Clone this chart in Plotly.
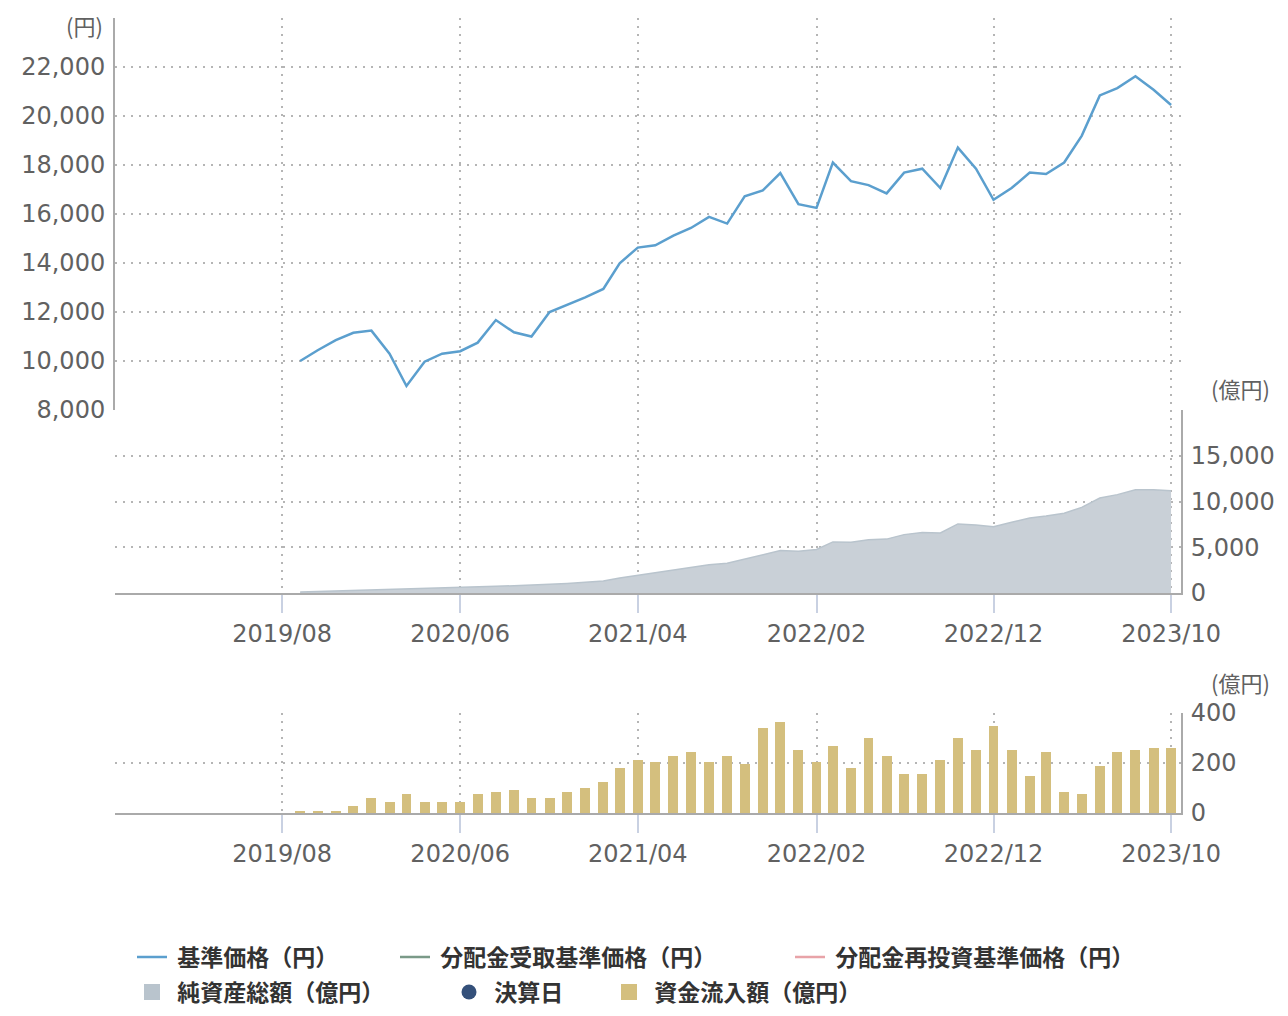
import plotly.graph_objects as go

months = [f"{y}-{m:02d}-01" for y in range(2019, 2024) for m in range(1, 13)]
months = [d for d in months if "2019-09-01" <= d <= "2023-10-01"]

price = [10000, 10440, 10850, 11150, 11240, 10300, 8980, 9970, 10300, 10400,
         10750, 11670, 11170, 11000, 12000, 12290, 12600, 12940, 13990, 14630,
         14720, 15120, 15430, 15880, 15610, 16720, 16960, 17670, 16400, 16250,
         18100, 17340, 17180, 16840, 17690, 17850, 17060, 18710, 17850, 16580,
         17060, 17690, 17630, 18100, 19190, 20840, 21140, 21620, 21070, 20450]

net_assets = [100, 150, 200, 260, 320, 360, 400, 450, 500, 560,
              640, 730, 800, 850, 950, 1050, 1150, 1300, 1650, 1950,
              2200, 2500, 2800, 3100, 3250, 3700, 4150, 4640, 4570, 4750,
              5580, 5550, 5810, 5890, 6380, 6600, 6570, 7550, 7430, 7250,
              7740, 8190, 8420, 8720, 9360, 10380, 10750, 11280, 11280, 11170]

inflow = [10, 10, 10, 27, 60, 43, 75, 43, 43, 43,
          75, 83, 91, 59, 59, 83, 99, 123, 179, 211,
          203, 227, 243, 203, 227, 195, 339, 363, 251, 203,
          267, 179, 299, 227, 155, 155, 211, 299, 251, 347,
          251, 147, 243, 83, 75, 187, 243, 251, 259, 259]

tick_dates = ["2019-08-01", "2020-06-01", "2021-04-01", "2022-02-01", "2022-12-01", "2023-10-01"]
tick_text = ["2019/08", "2020/06", "2021/04", "2022/02", "2022/12", "2023/10"]

price_ticks = [8000, 10000, 12000, 14000, 16000, 18000, 20000, 22000, 24000]
asset_ticks = [0, 5000, 10000, 15000, 20000]
inflow_ticks = [0, 200, 400]

FONT = "Noto Sans CJK JP"
TICKFONT = "DejaVu Sans"
GRID = "#b5b5b5"
DOT = "2px,6px"
AX = "#aaaaaa"
X_RANGE = ["2018-10-19", "2023-10-18"]

fig = go.Figure()

fig.add_trace(go.Scatter(x=months, y=net_assets, mode="lines",
                         line=dict(color="#b9c4cd", width=1.5), fill="tozeroy",
                         fillcolor="#c9d0d7", xaxis="x2", yaxis="y2", showlegend=False))
fig.add_trace(go.Bar(x=months, y=inflow, marker=dict(color="#d4bf7e", line=dict(width=0)),
                     width=17 * 86400000, xaxis="x3", yaxis="y3", showlegend=False))
fig.add_trace(go.Scatter(x=months, y=price, mode="lines", name=" 基準価格（円）",
                         line=dict(color="#5b9fce", width=2.5), xaxis="x", yaxis="y",
                         legend="legend"))

# legend-only entries
fig.add_trace(go.Scatter(x=[None], y=[None], mode="lines", name=" 分配金受取基準価格（円）",
                         line=dict(color="#7a9a88", width=2.5), legend="legend2"))
fig.add_trace(go.Scatter(x=[None], y=[None], mode="lines", name=" 分配金再投資基準価格（円）",
                         line=dict(color="#e8a3a8", width=2.5), legend="legend3"))
fig.add_trace(go.Scatter(x=[None], y=[None], mode="markers", name=" 純資産総額（億円）",
                         marker=dict(symbol="square", size=17, color="#b9c4cd"), legend="legend4"))
fig.add_trace(go.Scatter(x=[None], y=[None], mode="markers", name=" 決算日",
                         marker=dict(symbol="circle", size=15, color="#34507a"), legend="legend5"))
fig.add_trace(go.Scatter(x=[None], y=[None], mode="markers", name=" 資金流入額（億円）",
                         marker=dict(symbol="square", size=17, color="#d4bf7e"), legend="legend6"))

tickfont = dict(family=TICKFONT, size=24, color="#616161")

def xgrid(**kw):
    d = dict(type="date", range=X_RANGE, tickvals=tick_dates, ticktext=tick_text,
             showgrid=True, gridcolor=GRID, griddash=DOT, gridwidth=1.5,
             zeroline=False, tickfont=tickfont)
    d.update(kw)
    return d

def ygrid(**kw):
    d = dict(showgrid=True, gridcolor=GRID, griddash=DOT, gridwidth=1.5,
             zeroline=False, tickfont=tickfont, ticks="", fixedrange=True)
    d.update(kw)
    return d

H = 795.0
def py(px):
    return (813 - px) / H

legend_font = dict(family=FONT, size=23, color="#333333", weight="bold")

def leg(xpx, ypx):
    return dict(xref="container", yref="container", x=xpx / 1288, y=1 - ypx / 1016,
                xanchor="left", yanchor="middle", orientation="h",
                font=legend_font, bgcolor="rgba(0,0,0,0)", borderwidth=0,
                itemsizing="trace", tracegroupgap=0)

fig.update_layout(
    width=1288, height=1016,
    margin=dict(l=115, r=107, t=18, b=203, autoexpand=False),
    paper_bgcolor="white", plot_bgcolor="white",
    font=dict(family=FONT, color="#555555"),
    bargap=0,
    xaxis=xgrid(anchor="y", showticklabels=False, ticks="", showline=False),
    xaxis2=xgrid(anchor="y2", matches="x", ticks="outside", ticklen=18, tickwidth=2,
                 tickcolor="#c9d1e2", showline=True, linecolor=AX, linewidth=2),
    xaxis3=xgrid(anchor="y3", matches="x", ticks="outside", ticklen=18, tickwidth=2,
                 tickcolor="#c9d1e2", showline=True, linecolor=AX, linewidth=2),
    yaxis=ygrid(domain=[py(410), 1], range=[8000, 24000], tickvals=price_ticks,
                ticktext=[f"{v:,}" if v < 24000 else "" for v in price_ticks],
                side="left", showline=True, linecolor=AX, linewidth=2,
                ticklabelstandoff=3),
    yaxis2=ygrid(domain=[py(593), py(410)], range=[0, 20000], tickvals=asset_ticks,
                 ticktext=[f"{v:,}" if v < 20000 else "" for v in asset_ticks],
                 side="right", anchor="x2", showline=True, linecolor=AX, linewidth=2,
                 ticklabelstandoff=3),
    yaxis3=ygrid(domain=[0, py(713)], range=[0, 400], tickvals=inflow_ticks,
                 ticktext=[str(v) for v in inflow_ticks],
                 side="right", anchor="x3", showline=True, linecolor=AX, linewidth=2,
                 ticklabelstandoff=3),
    legend=leg(132, 957),
    legend2=leg(395, 957),
    legend3=leg(790, 957),
    legend4=leg(132, 992),
    legend5=leg(449, 992),
    legend6=leg(609, 992),
    annotations=[
        dict(text="(円)", xref="paper", yref="paper", x=(105 - 115) / 1066, y=py(25),
             xanchor="right", yanchor="middle", showarrow=False,
             font=dict(family=FONT, size=22, color="#616161")),
        dict(text="(億円)", xref="paper", yref="paper", x=(1272 - 115) / 1066, y=py(388),
             xanchor="right", yanchor="middle", showarrow=False,
             font=dict(family=FONT, size=22, color="#616161")),
        dict(text="(億円)", xref="paper", yref="paper", x=(1272 - 115) / 1066, y=py(682),
             xanchor="right", yanchor="middle", showarrow=False,
             font=dict(family=FONT, size=22, color="#616161")),
    ],
)

fig.write_html("out.html")
